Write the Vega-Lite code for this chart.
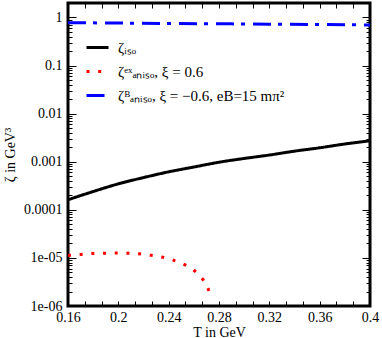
{
  "$schema": "https://vega.github.io/schema/vega-lite/v6.json",
  "autosize": "none",
  "width": 302,
  "height": 303,
  "padding": {"left": 68, "top": 3, "right": 12, "bottom": 32},
  "background": "white",
  "config": {
    "view": {"stroke": "black", "strokeWidth": 3},
    "font": "Liberation Serif, Times New Roman, serif",
    "axis": {
      "domain": false, "grid": false, "tickColor": "black", "labelColor": "black",
      "titleColor": "black", "labelFont": "Liberation Serif, Times New Roman, serif", "titleFont": "Liberation Serif, Times New Roman, serif",
      "labelFontSize": 14, "titleFontSize": 14, "titleFontWeight": "normal", "tickWidth": 1
    },
    "legend": {"labelFont": "Liberation Serif, Times New Roman, serif", "labelFontSize": 15, "labelLimit": 0}
  },
  "data": {"values": [
    {"T": 0.16, "z": 0.000162, "s": "iso"},
    {"T": 0.18, "z": 0.00024, "s": "iso"},
    {"T": 0.20, "z": 0.000347, "s": "iso"},
    {"T": 0.22, "z": 0.000468, "s": "iso"},
    {"T": 0.24, "z": 0.000617, "s": "iso"},
    {"T": 0.26, "z": 0.000776, "s": "iso"},
    {"T": 0.28, "z": 0.000977, "s": "iso"},
    {"T": 0.30, "z": 0.00117, "s": "iso"},
    {"T": 0.32, "z": 0.00138, "s": "iso"},
    {"T": 0.34, "z": 0.00166, "s": "iso"},
    {"T": 0.36, "z": 0.00195, "s": "iso"},
    {"T": 0.38, "z": 0.00234, "s": "iso"},
    {"T": 0.40, "z": 0.00272, "s": "iso"},
    {"T": 0.160, "z": 0.0000112, "s": "ex"},
    {"T": 0.170, "z": 0.0000118, "s": "ex"},
    {"T": 0.179, "z": 0.0000123, "s": "ex"},
    {"T": 0.188, "z": 0.0000125, "s": "ex"},
    {"T": 0.197, "z": 0.0000126, "s": "ex"},
    {"T": 0.206, "z": 0.0000125, "s": "ex"},
    {"T": 0.216, "z": 0.0000122, "s": "ex"},
    {"T": 0.224, "z": 0.0000115, "s": "ex"},
    {"T": 0.234, "z": 0.0000105, "s": "ex"},
    {"T": 0.243, "z": 0.0000091, "s": "ex"},
    {"T": 0.251, "z": 0.0000076, "s": "ex"},
    {"T": 0.259, "z": 0.0000058, "s": "ex"},
    {"T": 0.2656, "z": 0.0000040, "s": "ex"},
    {"T": 0.2707, "z": 0.0000025, "s": "ex"},
    {"T": 0.2738, "z": 0.0000015, "s": "ex"},
    {"T": 0.16, "z": 0.78, "s": "B"},
    {"T": 0.20, "z": 0.765, "s": "B"},
    {"T": 0.24, "z": 0.75, "s": "B"},
    {"T": 0.28, "z": 0.74, "s": "B"},
    {"T": 0.32, "z": 0.725, "s": "B"},
    {"T": 0.36, "z": 0.712, "s": "B"},
    {"T": 0.40, "z": 0.70, "s": "B"}
  ]},
  "resolve": {"axis": {"x": "independent", "y": "independent"}},
  "layer": [
    {
      "mark": {"type": "line", "interpolate": "monotone", "clip": true, "strokeCap": "butt"},
      "encoding": {
        "x": {"field": "T", "type": "quantitative", "scale": {"domain": [0.16, 0.4], "nice": false, "zero": false},
          "axis": {"orient": "bottom", "title": "T in GeV", "values": [0.16, 0.2, 0.24, 0.28, 0.32, 0.36, 0.4],
            "format": "~g", "tickSize": -5, "labelPadding": 9, "titlePadding": 1, "labelFlush": false}},
        "y": {"field": "z", "type": "quantitative", "scale": {"type": "log", "domain": [0.000001, 2], "nice": false},
          "axis": {"orient": "left", "title": "ζ in GeV³", "values": [0.000001, 0.00001, 0.0001, 0.001, 0.01, 0.1, 1],
            "labelExpr": "datum.value < 0.00005 ? (datum.value < 0.000005 ? '1e-06' : '1e-05') : format(datum.value, '~g')",
            "tickSize": -8, "labelPadding": 14, "titlePadding": 6, "labelFlush": false}},
        "color": {"field": "s", "type": "nominal",
          "scale": {"domain": ["iso", "ex", "B"], "range": ["#000000", "#ff0000", "#0000ff"]},
          "legend": {"title": null, "orient": "none", "legendX": 17, "legendY": 32, "symbolType": "stroke",
            "symbolSize": 484, "symbolStrokeWidth": 3, "rowPadding": 3, "labelOffset": 8, "labelLimit": 0,
            "labelFontSize": 15,
            "labelExpr": "datum.value == 'iso' ? 'ζᵢₛₒ' : datum.value == 'ex' ? 'ζᵉˣₐₙᵢₛₒ, ξ = 0.6' : 'ζᴮₐₙᵢₛₒ, ξ = −0.6, eB=15 mπ²'"}},
        "strokeDash": {"field": "s", "type": "nominal",
          "scale": {"domain": ["iso", "ex", "B"], "range": [[1, 0], [3, 8.7], [18, 7, 4, 8]]},
          "legend": {"title": null, "orient": "none", "legendX": 17, "legendY": 32, "symbolType": "stroke",
            "symbolSize": 484, "symbolStrokeWidth": 3, "rowPadding": 3, "labelOffset": 8, "labelLimit": 0,
            "labelFontSize": 15,
            "labelExpr": "datum.value == 'iso' ? 'ζᵢₛₒ' : datum.value == 'ex' ? 'ζᵉˣₐₙᵢₛₒ, ξ = 0.6' : 'ζᴮₐₙᵢₛₒ, ξ = −0.6, eB=15 mπ²'"}},
        "strokeWidth": {"field": "s", "type": "nominal",
          "scale": {"domain": ["iso", "ex", "B"], "range": [3, 3, 4]}, "legend": null}
      }
    },
    {
      "mark": {"type": "point", "opacity": 0},
      "encoding": {
        "x": {"field": "T", "type": "quantitative",
          "axis": {"orient": "bottom", "title": null, "labels": false, "tickSize": -5,
            "values": [0.1733, 0.1867, 0.2133, 0.2267, 0.2533, 0.2667, 0.2933, 0.3067, 0.3333, 0.3467, 0.3733, 0.3867]}},
        "y": {"field": "z", "type": "quantitative",
          "axis": {"orient": "left", "title": null, "labels": false, "tickSize": -4,
            "values": [0.000002,0.000003,0.000004,0.000005,0.000006,0.000007,0.000008,0.000009,
                       0.00002,0.00003,0.00004,0.00005,0.00006,0.00007,0.00008,0.00009,
                       0.0002,0.0003,0.0004,0.0005,0.0006,0.0007,0.0008,0.0009,
                       0.002,0.003,0.004,0.005,0.006,0.007,0.008,0.009,
                       0.02,0.03,0.04,0.05,0.06,0.07,0.08,0.09,
                       0.2,0.3,0.4,0.5,0.6,0.7,0.8,0.9,2]}}
      }
    },
    {
      "mark": {"type": "point", "opacity": 0},
      "encoding": {
        "x": {"field": "T", "type": "quantitative",
          "axis": {"orient": "top", "title": null, "labels": false, "tickSize": -5,
            "values": [0.16, 0.1733, 0.1867, 0.2, 0.2133, 0.2267, 0.24, 0.2533, 0.2667, 0.28, 0.2933, 0.3067, 0.32, 0.3333, 0.3467, 0.36, 0.3733, 0.3867, 0.4]}},
        "y": {"field": "z", "type": "quantitative",
          "axis": {"orient": "right", "title": null, "labels": false, "tickSize": -8,
            "values": [0.000001, 0.00001, 0.0001, 0.001, 0.01, 0.1, 1]}}
      }
    },
    {
      "mark": {"type": "point", "opacity": 0},
      "encoding": {
        "x": {"field": "T", "type": "quantitative",
          "axis": {"orient": "top", "title": null, "labels": false, "ticks": false, "values": []}},
        "y": {"field": "z", "type": "quantitative",
          "axis": {"orient": "right", "title": null, "labels": false, "tickSize": -4,
            "values": [0.000002,0.000003,0.000004,0.000005,0.000006,0.000007,0.000008,0.000009,
                       0.00002,0.00003,0.00004,0.00005,0.00006,0.00007,0.00008,0.00009,
                       0.0002,0.0003,0.0004,0.0005,0.0006,0.0007,0.0008,0.0009,
                       0.002,0.003,0.004,0.005,0.006,0.007,0.008,0.009,
                       0.02,0.03,0.04,0.05,0.06,0.07,0.08,0.09,
                       0.2,0.3,0.4,0.5,0.6,0.7,0.8,0.9,2]}}
      }
    }
  ]
}
